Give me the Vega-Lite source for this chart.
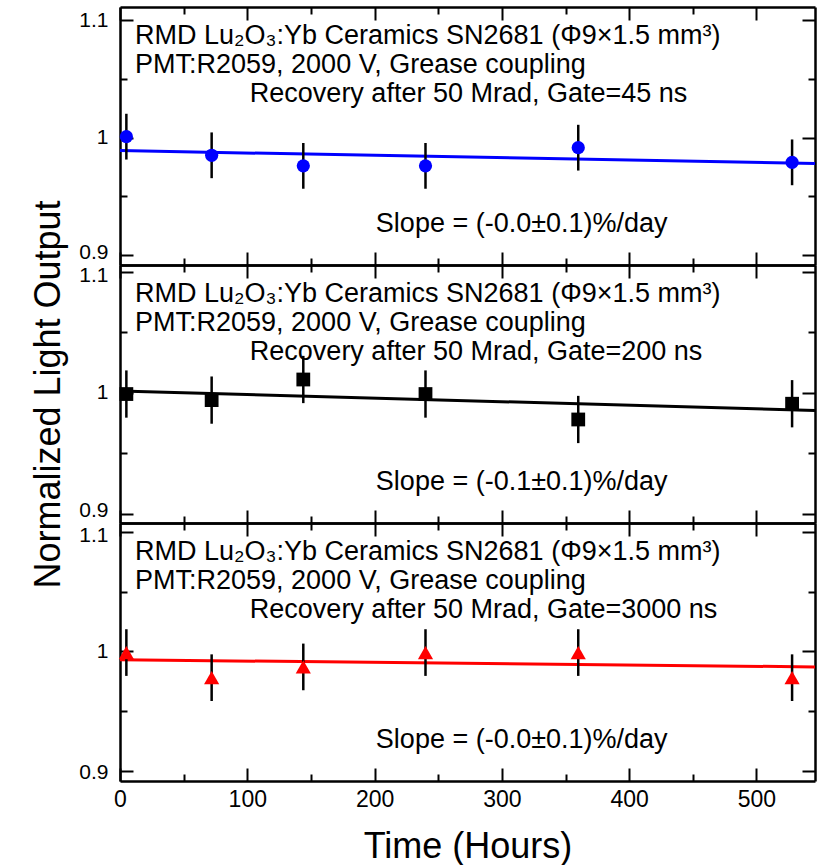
{
  "$schema": "https://vega.github.io/schema/vega-lite/v6.json",
  "padding": {"left": 30, "top": 6, "right": 3, "bottom": 3},
  "background": "white",
  "spacing": 0,
  "bounds": "flush",
  "config": {
    "font": "Liberation Sans",
    "view": {"stroke": null},
    "axis": {
      "domainColor": "black", "domainWidth": 2.5, "tickColor": "black", "tickWidth": 2,
      "labelColor": "black", "titleColor": "black", "grid": false, "labelFlush": false,
      "labelOverlap": false, "titleFontWeight": "normal", "labelFont": "Liberation Sans", "titleFont": "Liberation Sans"
    }
  },
  "datasets": {
    "pts": [
      {"gate": "45", "t": 5, "y": 1.0009, "lo": 0.9814, "hi": 1.0204},
      {"gate": "45", "t": 72, "y": 0.985, "lo": 0.9655, "hi": 1.0045},
      {"gate": "45", "t": 144, "y": 0.976, "lo": 0.9565, "hi": 0.9955},
      {"gate": "45", "t": 240, "y": 0.976, "lo": 0.9565, "hi": 0.9955},
      {"gate": "45", "t": 360, "y": 0.9915, "lo": 0.972, "hi": 1.011},
      {"gate": "45", "t": 528, "y": 0.979, "lo": 0.9595, "hi": 0.9985},
      {"gate": "200", "t": 5, "y": 0.999, "lo": 0.9795, "hi": 1.0185},
      {"gate": "200", "t": 72, "y": 0.994, "lo": 0.9745, "hi": 1.0135},
      {"gate": "200", "t": 144, "y": 1.011, "lo": 0.9915, "hi": 1.0305},
      {"gate": "200", "t": 240, "y": 0.999, "lo": 0.9795, "hi": 1.0185},
      {"gate": "200", "t": 360, "y": 0.978, "lo": 0.9585, "hi": 0.9975},
      {"gate": "200", "t": 528, "y": 0.991, "lo": 0.9715, "hi": 1.0105},
      {"gate": "3000", "t": 5, "y": 0.999, "lo": 0.9795, "hi": 1.0185},
      {"gate": "3000", "t": 72, "y": 0.978, "lo": 0.9585, "hi": 0.9975},
      {"gate": "3000", "t": 144, "y": 0.987, "lo": 0.9675, "hi": 1.0065},
      {"gate": "3000", "t": 240, "y": 0.999, "lo": 0.9795, "hi": 1.0185},
      {"gate": "3000", "t": 360, "y": 0.999, "lo": 0.9795, "hi": 1.0185},
      {"gate": "3000", "t": 528, "y": 0.978, "lo": 0.9585, "hi": 0.9975}
    ],
    "fit": [
      {"gate": "45", "t": 0, "y": 0.989},
      {"gate": "45", "t": 546, "y": 0.978},
      {"gate": "200", "t": 0, "y": 1.0015},
      {"gate": "200", "t": 546, "y": 0.9855},
      {"gate": "3000", "t": 0, "y": 0.993},
      {"gate": "3000", "t": 546, "y": 0.987}
    ],
    "notes": [
      {"gate": "45", "l1": "RMD Lu₂O₃:Yb Ceramics SN2681 (Φ9×1.5 mm³)", "l2": "PMT:R2059, 2000 V, Grease coupling", "l3": "Recovery after 50 Mrad, Gate=45 ns", "slope": "Slope = (-0.0±0.1)%/day"},
      {"gate": "200", "l1": "RMD Lu₂O₃:Yb Ceramics SN2681 (Φ9×1.5 mm³)", "l2": "PMT:R2059, 2000 V, Grease coupling", "l3": "Recovery after 50 Mrad, Gate=200 ns", "slope": "Slope = (-0.1±0.1)%/day"},
      {"gate": "3000", "l1": "RMD Lu₂O₃:Yb Ceramics SN2681 (Φ9×1.5 mm³)", "l2": "PMT:R2059, 2000 V, Grease coupling", "l3": "Recovery after 50 Mrad, Gate=3000 ns", "slope": "Slope = (-0.0±0.1)%/day"}
    ]
  },
  "vconcat": [
    {
      "width": 695, "height": 258,
      "resolve": {"axis": {"x": "independent", "y": "independent"}},
      "layer": [
        {"data": {"name": "fit"}, "transform": [{"filter": "datum.gate === '45'"}],
         "mark": {"type": "line", "color": "#0000ff", "strokeWidth": 3},
         "encoding": {
           "x": {"field": "t", "type": "quantitative", "scale": {"domain": [0, 546], "nice": false},
                 "axis": {"orient": "bottom", "values": [0,50,100,150,200,250,300,350,400,450,500], "labels": false, "title": null,
                          "tickSize": {"condition": {"test": "datum.value % 100 === 0", "value": -13}, "value": -7}}},
           "y": {"field": "y", "type": "quantitative", "scale": {"domain": [0.8915, 1.1114], "nice": false, "zero": false},
                 "axis": {"orient": "left", "values": [0.9,0.95,1,1.05,1.1], "labelExpr": "(datum.value === 0.95 || datum.value === 1.05) ? '' : format(datum.value, '.1~f')",
                          "labelPadding": 25, "labelFontSize": 21, "title": null,
                          "labelOffset": {"condition": {"test": "datum.value === 0.9", "value": -3}, "value": 0},
                          "tickSize": {"condition": {"test": "datum.value === 0.95 || datum.value === 1.05", "value": -7}, "value": -13}}}
         }},
        {"data": {"name": "pts"}, "transform": [{"filter": "datum.gate === '45'"}],
         "mark": {"type": "rule", "color": "black", "strokeWidth": 2.5},
         "encoding": {
           "x": {"field": "t", "type": "quantitative",
                 "axis": {"orient": "top", "values": [0,50,100,150,200,250,300,350,400,450,500], "labels": false, "title": null,
                          "tickSize": {"condition": {"test": "datum.value % 100 === 0", "value": -13}, "value": -7}}},
           "y": {"field": "lo", "type": "quantitative",
                 "axis": {"orient": "right", "values": [0.9,0.95,1,1.05,1.1], "labels": false, "title": null,
                          "tickSize": {"condition": {"test": "datum.value === 0.95 || datum.value === 1.05", "value": -7}, "value": -13}}},
           "y2": {"field": "hi"}
         }},
        {"data": {"name": "pts"}, "transform": [{"filter": "datum.gate === '45'"}],
         "mark": {"type": "point", "filled": true, "shape": "circle", "size": 175, "color": "#0000ff", "opacity": 1},
         "encoding": {"x": {"field": "t", "type": "quantitative", "axis": null}, "y": {"field": "y", "type": "quantitative", "axis": null}}},
        {"data": {"name": "notes"}, "transform": [{"filter": "datum.gate === '45'"}],
         "mark": {"type": "text", "align": "left", "baseline": "alphabetic", "fontSize": 27, "color": "black"},
         "encoding": {"x": {"datum": 11.8, "type": "quantitative", "axis": null}, "y": {"datum": 1.0799, "type": "quantitative", "axis": null}, "text": {"field": "l1"}}},
        {"data": {"name": "notes"}, "transform": [{"filter": "datum.gate === '45'"}],
         "mark": {"type": "text", "align": "left", "baseline": "alphabetic", "fontSize": 27, "color": "black"},
         "encoding": {"x": {"datum": 11.8, "type": "quantitative", "axis": null}, "y": {"datum": 1.0551, "type": "quantitative", "axis": null}, "text": {"field": "l2"}}},
        {"data": {"name": "notes"}, "transform": [{"filter": "datum.gate === '45'"}],
         "mark": {"type": "text", "align": "left", "baseline": "alphabetic", "fontSize": 27, "color": "black"},
         "encoding": {"x": {"datum": 102, "type": "quantitative", "axis": null}, "y": {"datum": 1.0304, "type": "quantitative", "axis": null}, "text": {"field": "l3"}}},
        {"data": {"name": "notes"}, "transform": [{"filter": "datum.gate === '45'"}],
         "mark": {"type": "text", "align": "left", "baseline": "alphabetic", "fontSize": 27, "color": "black"},
         "encoding": {"x": {"datum": 201, "type": "quantitative", "axis": null}, "y": {"datum": 0.9196, "type": "quantitative", "axis": null}, "text": {"field": "slope"}}}
      ]
    },
    {
      "width": 695, "height": 258,
      "resolve": {"axis": {"x": "independent", "y": "independent"}},
      "layer": [
        {"data": {"name": "fit"}, "transform": [{"filter": "datum.gate === '200'"}],
         "mark": {"type": "line", "color": "black", "strokeWidth": 3},
         "encoding": {
           "x": {"field": "t", "type": "quantitative", "scale": {"domain": [0, 546], "nice": false},
                 "axis": {"orient": "bottom", "values": [0,50,100,150,200,250,300,350,400,450,500], "labels": false, "title": null,
                          "tickSize": {"condition": {"test": "datum.value % 100 === 0", "value": -13}, "value": -7}}},
           "y": {"field": "y", "type": "quantitative", "scale": {"domain": [0.89257, 1.1055], "nice": false, "zero": false},
                 "axis": {"orient": "left", "values": [0.9,0.95,1,1.05,1.1], "labelExpr": "(datum.value === 0.95 || datum.value === 1.05) ? '' : format(datum.value, '.1~f')",
                          "labelPadding": 25, "labelFontSize": 21, "title": "Normalized Light Output", "titleFontSize": 36, "titlePadding": 11,
                          "labelOffset": {"condition": [{"test": "datum.value === 0.9", "value": -3}, {"test": "datum.value === 1.1", "value": 4}], "value": 0},
                          "tickSize": {"condition": {"test": "datum.value === 0.95 || datum.value === 1.05", "value": -7}, "value": -13}}}
         }},
        {"data": {"name": "pts"}, "transform": [{"filter": "datum.gate === '200'"}],
         "mark": {"type": "rule", "color": "black", "strokeWidth": 2.5},
         "encoding": {
           "x": {"field": "t", "type": "quantitative",
                 "axis": {"orient": "top", "values": [0,50,100,150,200,250,300,350,400,450,500], "labels": false, "title": null,
                          "tickSize": {"condition": {"test": "datum.value % 100 === 0", "value": -13}, "value": -7}}},
           "y": {"field": "lo", "type": "quantitative",
                 "axis": {"orient": "right", "values": [0.9,0.95,1,1.05,1.1], "labels": false, "title": null,
                          "tickSize": {"condition": {"test": "datum.value === 0.95 || datum.value === 1.05", "value": -7}, "value": -13}}},
           "y2": {"field": "hi"}
         }},
        {"data": {"name": "pts"}, "transform": [{"filter": "datum.gate === '200'"}],
         "mark": {"type": "point", "filled": true, "shape": "square", "size": 190, "color": "black", "opacity": 1},
         "encoding": {"x": {"field": "t", "type": "quantitative", "axis": null}, "y": {"field": "y", "type": "quantitative", "axis": null}}},
        {"data": {"name": "notes"}, "transform": [{"filter": "datum.gate === '200'"}],
         "mark": {"type": "text", "align": "left", "baseline": "alphabetic", "fontSize": 27, "color": "black"},
         "encoding": {"x": {"datum": 11.8, "type": "quantitative", "axis": null}, "y": {"datum": 1.0750, "type": "quantitative", "axis": null}, "text": {"field": "l1"}}},
        {"data": {"name": "notes"}, "transform": [{"filter": "datum.gate === '200'"}],
         "mark": {"type": "text", "align": "left", "baseline": "alphabetic", "fontSize": 27, "color": "black"},
         "encoding": {"x": {"datum": 11.8, "type": "quantitative", "axis": null}, "y": {"datum": 1.0510, "type": "quantitative", "axis": null}, "text": {"field": "l2"}}},
        {"data": {"name": "notes"}, "transform": [{"filter": "datum.gate === '200'"}],
         "mark": {"type": "text", "align": "left", "baseline": "alphabetic", "fontSize": 27, "color": "black"},
         "encoding": {"x": {"datum": 102, "type": "quantitative", "axis": null}, "y": {"datum": 1.0271, "type": "quantitative", "axis": null}, "text": {"field": "l3"}}},
        {"data": {"name": "notes"}, "transform": [{"filter": "datum.gate === '200'"}],
         "mark": {"type": "text", "align": "left", "baseline": "alphabetic", "fontSize": 27, "color": "black"},
         "encoding": {"x": {"datum": 201, "type": "quantitative", "axis": null}, "y": {"datum": 0.9198, "type": "quantitative", "axis": null}, "text": {"field": "slope"}}}
      ]
    },
    {
      "width": 695, "height": 258,
      "resolve": {"axis": {"x": "independent", "y": "independent"}},
      "layer": [
        {"data": {"name": "fit"}, "transform": [{"filter": "datum.gate === '3000'"}],
         "mark": {"type": "line", "color": "#ff0000", "strokeWidth": 3},
         "encoding": {
           "x": {"field": "t", "type": "quantitative", "scale": {"domain": [0, 546], "nice": false},
                 "axis": {"orient": "bottom", "values": [0,50,100,150,200,250,300,350,400,450,500],
                          "labelExpr": "datum.value % 100 === 0 ? datum.label : ''", "labelPadding": 20, "labelFontSize": 23,
                          "title": "Time (Hours)", "titleFontSize": 36, "titlePadding": 12,
                          "tickSize": {"condition": {"test": "datum.value % 100 === 0", "value": -13}, "value": -7}}},
           "y": {"field": "y", "type": "quantitative", "scale": {"domain": [0.89164, 1.1073], "nice": false, "zero": false},
                 "axis": {"orient": "left", "values": [0.9,0.95,1,1.05,1.1], "labelExpr": "(datum.value === 0.95 || datum.value === 1.05) ? '' : format(datum.value, '.1~f')",
                          "labelPadding": 25, "labelFontSize": 21, "title": null,
                          "labelOffset": {"condition": [{"test": "datum.value === 0.9", "value": 2}, {"test": "datum.value === 1.1", "value": 4}], "value": 0},
                          "tickSize": {"condition": {"test": "datum.value === 0.95 || datum.value === 1.05", "value": -7}, "value": -13}}}
         }},
        {"data": {"name": "pts"}, "transform": [{"filter": "datum.gate === '3000'"}],
         "mark": {"type": "rule", "color": "black", "strokeWidth": 2.5},
         "encoding": {
           "x": {"field": "t", "type": "quantitative",
                 "axis": {"orient": "top", "values": [0,50,100,150,200,250,300,350,400,450,500], "labels": false, "title": null,
                          "tickSize": {"condition": {"test": "datum.value % 100 === 0", "value": -13}, "value": -7}}},
           "y": {"field": "lo", "type": "quantitative",
                 "axis": {"orient": "right", "values": [0.9,0.95,1,1.05,1.1], "labels": false, "title": null,
                          "tickSize": {"condition": {"test": "datum.value === 0.95 || datum.value === 1.05", "value": -7}, "value": -13}}},
           "y2": {"field": "hi"}
         }},
        {"data": {"name": "pts"}, "transform": [{"filter": "datum.gate === '3000'"}],
         "mark": {"type": "point", "filled": true, "shape": "triangle-up", "size": 230, "color": "#ff0000", "opacity": 1},
         "encoding": {"x": {"field": "t", "type": "quantitative", "axis": null}, "y": {"field": "y", "type": "quantitative", "axis": null}}},
        {"data": {"name": "notes"}, "transform": [{"filter": "datum.gate === '3000'"}],
         "mark": {"type": "text", "align": "left", "baseline": "alphabetic", "fontSize": 27, "color": "black"},
         "encoding": {"x": {"datum": 11.8, "type": "quantitative", "axis": null}, "y": {"datum": 1.0764, "type": "quantitative", "axis": null}, "text": {"field": "l1"}}},
        {"data": {"name": "notes"}, "transform": [{"filter": "datum.gate === '3000'"}],
         "mark": {"type": "text", "align": "left", "baseline": "alphabetic", "fontSize": 27, "color": "black"},
         "encoding": {"x": {"datum": 11.8, "type": "quantitative", "axis": null}, "y": {"datum": 1.0521, "type": "quantitative", "axis": null}, "text": {"field": "l2"}}},
        {"data": {"name": "notes"}, "transform": [{"filter": "datum.gate === '3000'"}],
         "mark": {"type": "text", "align": "left", "baseline": "alphabetic", "fontSize": 27, "color": "black"},
         "encoding": {"x": {"datum": 102, "type": "quantitative", "axis": null}, "y": {"datum": 1.0279, "type": "quantitative", "axis": null}, "text": {"field": "l3"}}},
        {"data": {"name": "notes"}, "transform": [{"filter": "datum.gate === '3000'"}],
         "mark": {"type": "text", "align": "left", "baseline": "alphabetic", "fontSize": 27, "color": "black"},
         "encoding": {"x": {"datum": 201, "type": "quantitative", "axis": null}, "y": {"datum": 0.9193, "type": "quantitative", "axis": null}, "text": {"field": "slope"}}}
      ]
    }
  ]
}
